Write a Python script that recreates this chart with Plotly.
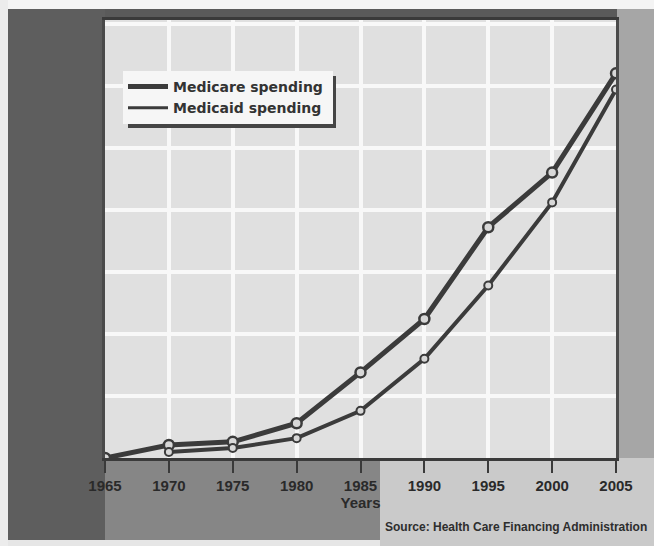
import plotly.graph_objects as go

years = [1965, 1970, 1975, 1980, 1985, 1990, 1995, 2000, 2005]
medicare = [0, 10.5, 13, 28, 69, 112, 186, 230, 310]
medicaid = [None, 4.8, 8, 16, 38, 80, 139, 206, 297]
tick_labels = ["1965", "1970", "1975", "1980", "1985", "1990", "1995", "2000", "2005"]
series_names = ["Medicare spending", "Medicaid spending"]

W, H = 654, 546
L, R, T, B = 105, 38, 20, 88
pw, ph = W - L - R, H - T - B

def px(x):
    return (x - L) / pw

def py(y):
    return (H - B - y) / ph

FONT = "Liberation Sans, Arial, sans-serif"
LFONT = "DejaVu Sans, sans-serif"
LINE = "#3b3b3b"

fig = go.Figure()
fig.add_trace(go.Scatter(
    x=years, y=medicare, name=series_names[0], mode="lines+markers", showlegend=False,
    line=dict(color=LINE, width=5),
    marker=dict(symbol="circle", size=10, color="#d8d8d8", line=dict(color=LINE, width=2.5)),
))
fig.add_trace(go.Scatter(
    x=years, y=medicaid, name=series_names[1], mode="lines+markers", showlegend=False,
    line=dict(color=LINE, width=4),
    marker=dict(symbol="circle", size=8, color="#d8d8d8", line=dict(color=LINE, width=2)),
))
# legend entries (line-only symbols as in the original)
fig.add_trace(go.Scatter(x=[None], y=[None], mode="lines", name="<b>%s</b>&nbsp;" % series_names[0],
                         line=dict(color=LINE, width=5)))
fig.add_trace(go.Scatter(x=[None], y=[None], mode="lines", name="<b>%s</b>&nbsp;" % series_names[1],
                         line=dict(color=LINE, width=3)))

shapes = [
    dict(type="rect", xref="paper", yref="paper", x0=px(0), x1=px(W), y0=py(9), y1=py(0),
         fillcolor="#f4f4f4", line_width=0, layer="below"),
    dict(type="rect", xref="paper", yref="paper", x0=px(0), x1=px(8), y0=py(546), y1=py(0),
         fillcolor="#ececec", line_width=0, layer="below"),
    dict(type="rect", xref="paper", yref="paper", x0=px(8), x1=px(617), y0=py(20), y1=py(9),
         fillcolor="#5a5a5a", line_width=0, layer="below"),
    dict(type="rect", xref="paper", yref="paper", x0=px(8), x1=px(105), y0=py(540), y1=py(9),
         fillcolor="#5e5e5e", line_width=0, layer="below"),
    dict(type="rect", xref="paper", yref="paper", x0=px(105), x1=px(380), y0=py(540), y1=py(458),
         fillcolor="#868686", line_width=0, layer="below"),
    dict(type="rect", xref="paper", yref="paper", x0=px(380), x1=px(W), y0=py(546), y1=py(458),
         fillcolor="#cacaca", line_width=0, layer="below"),
    dict(type="rect", xref="paper", yref="paper", x0=px(8), x1=px(380), y0=py(546), y1=py(540),
         fillcolor="#e6e6e6", line_width=0, layer="below"),
    # legend drop shadow (sits under the legend box)
    dict(type="rect", xref="paper", yref="paper", x0=px(128), x1=px(336), y0=py(128), y1=py(76),
         fillcolor="#454545", line_width=0, layer="above"),
]
fig.update_layout(shapes=shapes)

fig.add_annotation(text="<b>Source: Health Care Financing Administration</b>",
                   xref="paper", yref="paper", x=px(383), y=py(527), xanchor="left", yanchor="middle",
                   showarrow=False, font=dict(family=FONT, size=12, color="#2e2e2e"))

fig.update_layout(
    width=W, height=H,
    margin=dict(l=L, r=R, t=T, b=B),
    paper_bgcolor="#a6a6a6",
    plot_bgcolor="#e0e0e0",
    showlegend=True,
    legend=dict(x=px(123), y=py(71), xanchor="left", yanchor="top",
                bgcolor="#f6f6f6", bordercolor="#4a4a4a", borderwidth=0,
                font=dict(family=LFONT, size=14, color="#333333"),
                tracegroupgap=0, itemwidth=40),
    xaxis=dict(range=[1965, 2005], tickmode="array", tickvals=years,
               ticktext=["<b>%s</b>" % t for t in tick_labels],
               ticks="outside", ticklen=12, tickwidth=2, tickcolor="#3a3a3a",
               showgrid=True, gridcolor="#f8f8f8", gridwidth=4,
               showline=True, linecolor="#3a3a3a", linewidth=3, mirror=True,
               zeroline=False,
               tickfont=dict(family=FONT, size=15, color="#2a2a2a"),
               title=dict(text="<b>Years</b>", font=dict(family=FONT, size=15, color="#2a2a2a"), standoff=4)),
    yaxis=dict(range=[0, 353], tickmode="linear", tick0=0, dtick=50,
               showticklabels=False, ticks="",
               showgrid=True, gridcolor="#f8f8f8", gridwidth=4,
               showline=True, linecolor="#4a4a4a", linewidth=3, mirror=True,
               zeroline=False),
)

fig.write_html("out.html")
